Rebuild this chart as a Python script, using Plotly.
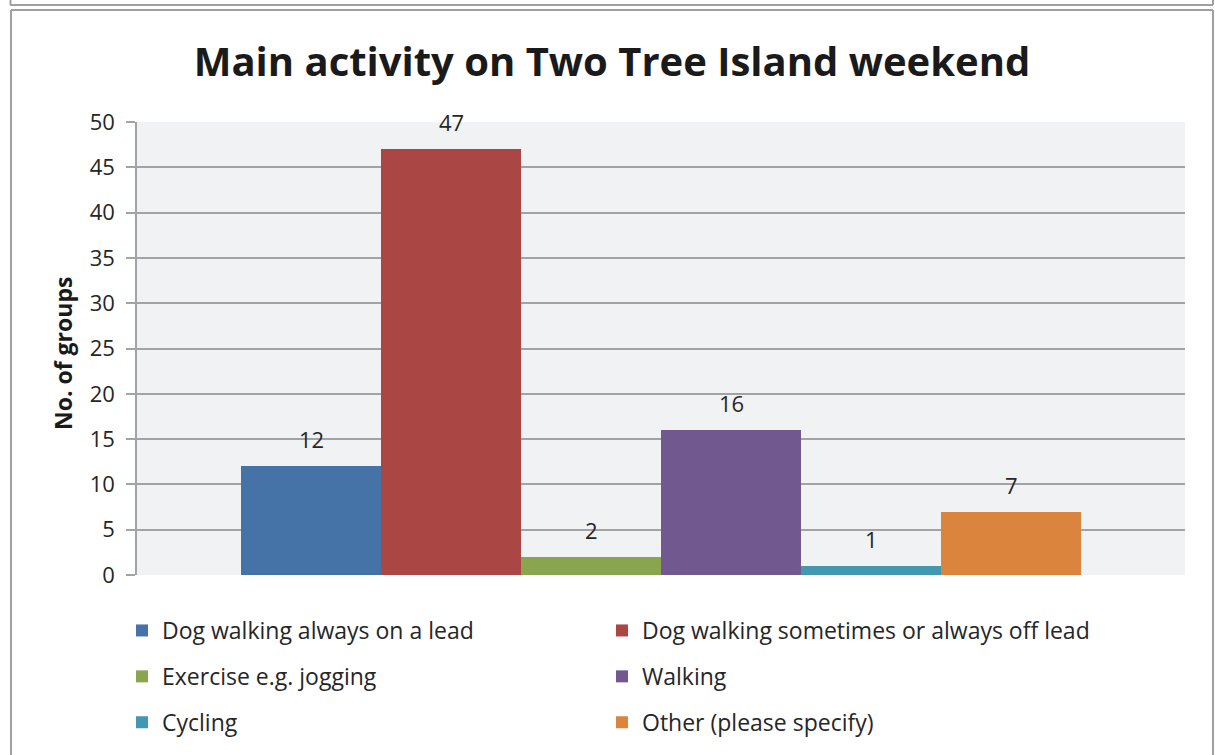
import plotly.graph_objects as go

# Survey results: main activity of visiting groups at the weekend
categories = [
    "Dog walking always on a lead",
    "Dog walking sometimes or always off lead",
    "Exercise e.g. jogging",
    "Walking",
    "Cycling",
    "Other (please specify)",
]
groups = [12, 47, 2, 16, 1, 7]
colors = ["#4572A7", "#AA4643", "#89A54E", "#71588F", "#4198AF", "#DB843D"]
y_ticks = [0, 5, 10, 15, 20, 25, 30, 35, 40, 45, 50]

W, H = 1215, 755
L, R, T, B = 137, 1185, 122, 575  # plot area in pixels
pw, ph = R - L, B - T

def px_x(x):
    return (x - L) / pw

def px_y(y):
    return (B - y) / ph

FONT = "Open Sans"
TXT = "#262626"
GRID = "#A3A3A3"

fig = go.Figure()
for i, (name, val, col) in enumerate(zip(categories, groups, colors)):
    fig.add_trace(go.Bar(
        x=[i], y=[val], name=name, width=1,
        marker=dict(color=col, line=dict(width=0)),
        legend="legend" if i % 2 == 0 else "legend2",
        legendgroup=name,
        showlegend=True,
    ))
    fig.add_annotation(x=i, y=val, text=str(val), showarrow=False,
                       yshift=27, font=dict(family=FONT, size=22, color=TXT))

side = 0.5 + 104 / 140
fig.update_xaxes(range=[-side, len(categories) - 1 + side], showticklabels=False,
                 showgrid=False, zeroline=False, showline=False, fixedrange=True)
fig.update_yaxes(range=[0, 50], tickvals=y_ticks, showgrid=True, gridcolor=GRID,
                 gridwidth=1.5, zeroline=False, showline=True, linecolor=GRID,
                 linewidth=1.5, ticks="outside", ticklen=9, tickcolor=GRID,
                 tickwidth=1.5, ticklabelstandoff=7,
                 tickfont=dict(family=FONT, size=22, color=TXT))

# Axis title
fig.add_annotation(xref="paper", yref="paper", x=px_x(63), y=px_y(354),
                   xanchor="center", yanchor="middle",
                   text="<b>No. of groups</b>", textangle=-90, showarrow=False,
                   font=dict(family=FONT, size=23, color="#1A1A1A"))

# Frame lines around the chart
frame = dict(color="#A0A0A0", width=2)
for x0, y0, x1, y1 in [
    (10, 5, 1213, 5), (10.5, 0, 10.5, 5), (1213, 0, 1213, 5),
    (11, 10, 1213, 10), (11, 10, 11, 755), (1213, 10, 1213, 755),
]:
    fig.add_shape(type="line", xref="paper", yref="paper",
                  x0=px_x(x0), y0=px_y(y0), x1=px_x(x1), y1=px_y(y1),
                  line=frame, layer="above")

legend_style = dict(orientation="v", xanchor="left", yanchor="top",
                    bgcolor="rgba(0,0,0,0)", borderwidth=0, tracegroupgap=13,
                    font=dict(family=FONT, size=23, color=TXT))
fig.update_layout(
    width=W, height=H,
    margin=dict(l=L, r=W - R, t=T, b=H - B, autoexpand=False),
    paper_bgcolor="white", plot_bgcolor="#F1F2F4",
    barmode="overlay", bargap=0,
    title=dict(text="<b>Main activity on Two Tree Island weekend</b>",
               x=612 / W, xanchor="center", y=1 - 62 / H, yanchor="middle",
               font=dict(family=FONT, size=40, color="#1A1A1A")),
    legend=dict(x=px_x(122), y=px_y(609), **legend_style),
    legend2=dict(x=px_x(602), y=px_y(609), **legend_style),
)

fig.write_html("out.html")
